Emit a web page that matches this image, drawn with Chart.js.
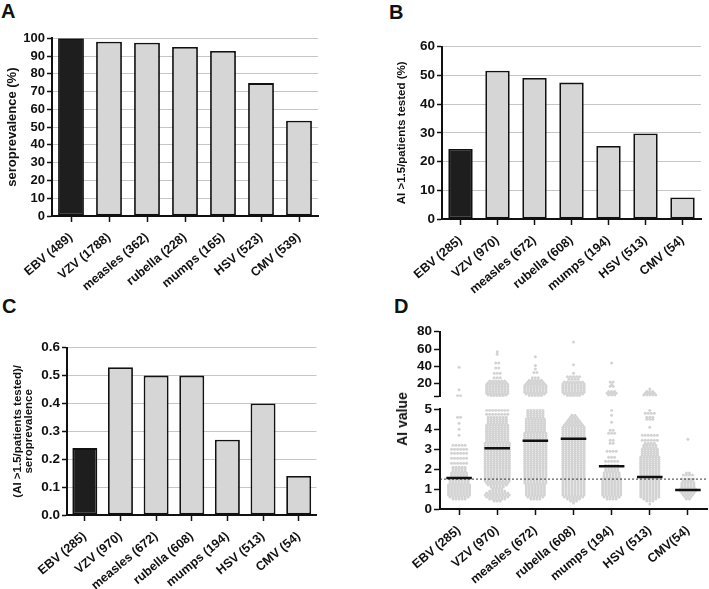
<!DOCTYPE html>
<html>
<head>
<meta charset="utf-8">
<script src="https://cdn.jsdelivr.net/npm/chart.js@4.4.1/dist/chart.umd.min.js"></script>
<style>
  body { margin: 0; background: #fff; width: 709px; height: 589px; position: relative; overflow: hidden; font-family: 'Liberation Sans', Arial, sans-serif; }
  .panel { position: absolute; }
  .letter { position: absolute; font: bold 20px/20px 'Liberation Sans', Arial, sans-serif; color: #111; }
  #dTitle { position: absolute; left: 402px; top: 419px; transform: translate(-50%, -50%) rotate(-90deg); white-space: nowrap; font: bold 14px 'Liberation Sans', Arial, sans-serif; color: #111; }
</style>
</head>
<body>
<div class="letter" style="left:1px;top:1px">A</div>
<div class="letter" style="left:389px;top:2px">B</div>
<div class="letter" style="left:2px;top:296px">C</div>
<div class="letter" style="left:394px;top:296px">D</div>

<div class="panel" style="left:0;top:28px;width:330px;height:268px"><canvas id="chartA"></canvas></div>
<div class="panel" style="left:355px;top:28px;width:354px;height:268px"><canvas id="chartB"></canvas></div>
<div class="panel" style="left:0;top:318px;width:330px;height:271px"><canvas id="chartC"></canvas></div>
<div class="panel" style="left:355px;top:320px;width:354px;height:80px"><canvas id="chartDHigh"></canvas></div>
<div class="panel" style="left:355px;top:400px;width:354px;height:189px"><canvas id="chartDLow"></canvas></div>
<div id="dTitle">AI value</div>

<script>
'use strict';
// panel A
var categoriesA = ['EBV (489)', 'VZV (1788)', 'measles (362)', 'rubella (228)', 'mumps (165)', 'HSV (523)', 'CMV (539)'];
var seroprevalence = [100, 98.1, 97.5, 95.1, 92.9, 74.8, 53.6];
var ticksA = [0, 10, 20, 30, 40, 50, 60, 70, 80, 90, 100];

// panel B
var categoriesB = ['EBV (285)', 'VZV (970)', 'measles (672)', 'rubella (608)', 'mumps (194)', 'HSV (513)', 'CMV (54)'];
var aiAbovePct = [24.4, 51.6, 49.1, 47.5, 25.4, 29.8, 7.5];
var ticksB = [0, 10, 20, 30, 40, 50, 60];

// panel C
var categoriesC = ['EBV (285)', 'VZV (970)', 'measles (672)', 'rubella (608)', 'mumps (194)', 'HSV (513)', 'CMV (54)'];
var aiRatio = [0.24, 0.53, 0.50, 0.50, 0.27, 0.40, 0.14];
var ticksC = [0, 0.1, 0.2, 0.3, 0.4, 0.5, 0.6];

// panel D: each row is [AI value, dots in that row]
var categoriesD = ['EBV (285)', 'VZV (970)', 'measles (672)', 'rubella (608)', 'mumps (194)', 'HSV (513)', 'CMV(54)'];
var medianD = [1.55, 3.05, 3.42, 3.52, 2.15, 1.6, 0.95];
var cutoffD = 1.5;
var ticksDLow = [0, 1, 2, 3, 4, 5];
var ticksDHigh = [5, 20, 40, 60, 80];

var ebvLow = [[0.5,5],[0.6,7],[0.7,8],[0.8,8],[0.9,8],[1.0,8],[1.1,8],[1.2,8],[1.3,7],[1.4,7],[1.5,7],[1.6,6],[1.7,6],[1.8,6],[1.9,5],[2.0,5],[2.1,5],[2.3,6],[2.55,6],[2.8,6],[3.0,6],[3.2,5],[3.7,1],[4.0,1],[4.3,1],[4.6,2]];
var vzvLow = [[0.4,3],[0.5,6],[0.6,8],[0.7,9],[0.8,8],[0.9,6],[1.0,4],[1.1,5],[1.2,7],[1.3,8],[1.4,9],[1.5,9],[1.6,9],[1.7,9],[1.8,9],[1.9,9],[2.0,9],[2.1,9],[2.2,9],[2.3,9],[2.4,9],[2.5,9],[2.6,9],[2.7,9],[2.8,9],[2.9,9],[3.0,9],[3.1,9],[3.2,9],[3.3,9],[3.4,8],[3.5,8],[3.6,8],[3.7,8],[3.8,8],[3.9,8],[4.0,8],[4.1,8],[4.2,8],[4.3,7],[4.4,7],[4.5,7],[4.6,7],[4.75,8],[4.95,8]];
var measlesLow = [[0.5,4],[0.6,6],[0.7,7],[0.8,7],[0.9,7],[1.0,7],[1.1,7],[1.2,7],[1.3,8],[1.4,8],[1.5,8],[1.6,8],[1.7,8],[1.8,8],[1.9,8],[2.0,8],[2.1,8],[2.2,8],[2.3,8],[2.4,8],[2.5,8],[2.6,8],[2.7,8],[2.8,8],[2.9,8],[3.0,8],[3.1,8],[3.2,8],[3.3,8],[3.4,8],[3.5,8],[3.6,8],[3.7,8],[3.8,8],[3.9,7],[4.0,7],[4.1,7],[4.2,7],[4.3,7],[4.4,7],[4.5,7],[4.6,6],[4.7,6],[4.8,6],[4.9,6],[5.0,6]];
var rubellaLow = [[0.3,1],[0.4,3],[0.5,5],[0.6,7],[0.7,8],[0.8,8],[0.9,8],[1.0,8],[1.1,8],[1.2,8],[1.3,8],[1.4,8],[1.5,8],[1.6,8],[1.7,8],[1.8,8],[1.9,8],[2.0,8],[2.1,8],[2.2,8],[2.3,8],[2.4,8],[2.5,8],[2.6,8],[2.7,8],[2.8,8],[2.9,8],[3.0,8],[3.1,8],[3.2,8],[3.3,8],[3.4,8],[3.5,8],[3.6,8],[3.7,8],[3.8,8],[3.9,8],[4.0,8],[4.1,8],[4.2,7],[4.3,6],[4.4,5],[4.5,4],[4.6,3],[4.7,2]];
var mumpsLow = [[0.5,4],[0.6,6],[0.7,7],[0.8,7],[0.9,7],[1.0,7],[1.1,7],[1.2,7],[1.3,7],[1.4,7],[1.5,7],[1.6,6],[1.7,6],[1.8,6],[1.9,5],[2.0,5],[2.2,5],[2.4,5],[2.6,3],[2.9,4],[3.3,2],[3.45,2],[3.8,3],[3.95,2],[4.35,1],[4.7,1],[4.95,1]];
var hsvLow = [[0.25,1],[0.4,3],[0.5,5],[0.6,7],[0.7,7],[0.8,7],[0.9,7],[1.0,7],[1.1,7],[1.2,7],[1.3,7],[1.4,7],[1.5,7],[1.6,7],[1.7,7],[1.8,7],[1.9,7],[2.0,7],[2.1,7],[2.2,7],[2.3,7],[2.4,7],[2.5,7],[2.6,7],[2.7,6],[2.8,6],[2.9,6],[3.0,6],[3.1,5],[3.2,5],[3.3,4],[3.45,6],[3.7,6],[4.1,1],[4.5,3],[4.6,3],[4.8,4],[4.95,1]];
var cmvLow = [[0.5,2],[0.6,3],[0.7,4],[0.8,5],[0.9,6],[1.0,6],[1.1,5],[1.2,5],[1.3,5],[1.4,4],[1.5,5],[1.7,4],[1.8,2],[3.5,1]];

var ebvHigh = [[39,1],[13,1],[6,2]];
var vzvHigh = [[57,1],[54,1],[44,2],[38,2],[32,3],[27,3],[23,6],[21,7],[19,8],[17,8],[15,8],[13,8],[11,8],[9,8],[7,7],[6,5]];
var measlesHigh = [[51,1],[41,1],[37,1],[33,2],[27,3],[24,5],[22,6],[20,7],[18,8],[16,8],[14,8],[12,8],[10,8],[8,7],[6,5]];
var rubellaHigh = [[68,1],[42,1],[32,1],[28,5],[25,4],[22,7],[20,8],[18,8],[16,8],[14,8],[12,8],[10,8],[8,7],[6,5]];
var mumpsHigh = [[44,1],[22,2],[19,1],[17,2],[11,3],[9,4],[7,3]];
var hsvHigh = [[14,1],[11,3],[9,4],[7,5]];
var cmvHigh = [];

var FONT = "'Liberation Sans', Arial, Helvetica, sans-serif";
var INK = '#111';
var LABEL_ROT = 40;

function drawBars(id, labels, values, yTicks, cfg) {
  new Chart(document.getElementById(id), {
    type: 'bar',
    data: {
      labels: labels,
      datasets: [{
        data: values,
        backgroundColor: values.map((v, i) => i === 0 ? '#1e1e1e' : '#d6d6d6'),
        borderColor: INK,
        borderWidth: 1.8,
        borderSkipped: false,
        barPercentage: cfg.barPct,
        categoryPercentage: 1
      }]
    },
    options: {
      responsive: true, maintainAspectRatio: false, animation: false, devicePixelRatio: 1,
      layout: {padding: {top: cfg.padTop, right: cfg.padRight, left: 0, bottom: 0}},
      plugins: {legend: {display: false}, tooltip: {enabled: false}},
      scales: {
        x: {
          grid: {offset: false, drawOnChartArea: false, tickColor: INK, tickLength: 6, tickWidth: 1.5},
          border: {color: INK, width: 2},
          ticks: {autoSkip: false, maxRotation: LABEL_ROT, minRotation: LABEL_ROT, padding: 8, color: INK,
            font: {family: FONT, weight: 'bold', size: 12.5}},
          afterFit: s => { s.height = cfg.xH; s.paddingLeft = 0; s.paddingRight = 0; }
        },
        y: {
          min: yTicks[0], max: yTicks[yTicks.length - 1],
          afterBuildTicks: s => { s.ticks = yTicks.map(v => ({value: v})); },
          grid: {color: '#c6c6c6', lineWidth: 1, tickColor: INK, tickLength: 5, tickWidth: 1.5},
          border: {color: INK, width: 2},
          ticks: {autoSkip: false, padding: 2, color: INK, font: {family: FONT, weight: 'bold', size: cfg.tickSize},
            callback: v => cfg.fmt(v)},
          title: {display: true, text: cfg.title, color: INK,
            font: {family: FONT, weight: 'bold', size: cfg.titleSize, lineHeight: cfg.titleLH},
            padding: {top: cfg.titlePad, bottom: 0}},
          afterFit: s => { s.width = cfg.yW; s.paddingTop = 0; s.paddingBottom = 0; }
        }
      }
    }
  });
}

drawBars('chartA', categoriesA, seroprevalence, ticksA, {
  barPct: 0.68, padTop: 10.3, padRight: 12, xH: 80, yW: 52, tickSize: 13,
  fmt: v => String(v), title: 'seroprevalence (%)', titleSize: 13, titleLH: 1.2, titlePad: 5
});
drawBars('chartB', categoriesB, aiAbovePct, ticksB, {
  barPct: 0.66, padTop: 18.7, padRight: 8, xH: 77, yW: 87, tickSize: 13.5,
  fmt: v => String(v), title: 'AI >1.5/patients tested (%)', titleSize: 11.5, titleLH: 1.2, titlePad: 40
});
drawBars('chartC', categoriesC, aiRatio, ticksC, {
  barPct: 0.7, padTop: 29.7, padRight: 13.5, xH: 74, yW: 67, tickSize: 13.5,
  fmt: v => v.toFixed(1), title: ['(AI >1.5/patients tested)/', 'seroprevalence'], titleSize: 11.5, titleLH: 0.92, titlePad: 13
});

// beeswarm spread: dots of a row are set side by side around the category
var DX = 0.079;
function swarm(groups) {
  var pts = [];
  groups.forEach((rows, idx) => {
    rows.forEach(([v, n]) => {
      for (let k = 0; k < n; k++) {
        pts.push({x: idx + (k - (n - 1) / 2) * DX, y: v});
      }
    });
  });
  return pts;
}

var dotStyle = {order: 2, pointRadius: 1.5, pointBackgroundColor: '#d3d3d3', pointBorderWidth: 0, pointHoverRadius: 0};
var yAxisD = (ticks, fmt, width) => ({
  min: ticks[0], max: ticks[ticks.length - 1],
  afterBuildTicks: s => { s.ticks = ticks.map(v => ({value: v})); },
  grid: {drawOnChartArea: false, tickColor: INK, tickLength: 6, tickWidth: 1.5},
  border: {color: INK, width: 2},
  ticks: {autoSkip: false, padding: 2, color: INK, font: {family: FONT, weight: 'bold', size: 13.5}, callback: fmt},
  afterFit: s => { s.width = width; s.paddingTop = 0; s.paddingBottom = 0; }
});
var baseOpts = {responsive: true, maintainAspectRatio: false, animation: false, devicePixelRatio: 1,
  plugins: {legend: {display: false}, tooltip: {enabled: false}}};

new Chart(document.getElementById('chartDHigh'), {
  type: 'scatter',
  data: {datasets: [Object.assign({data: swarm([ebvHigh, vzvHigh, measlesHigh, rubellaHigh, mumpsHigh, hsvHigh, cmvHigh])}, dotStyle)]},
  options: Object.assign({}, baseOpts, {
    layout: {padding: {top: 11.7, right: 2, bottom: 3.3, left: 0}},
    scales: {
      x: {display: false, min: -0.5, max: 6.5},
      y: yAxisD(ticksDHigh, v => v === 5 ? '' : String(v), 85)
    }
  })
});

var lowSets = [Object.assign({data: swarm([ebvLow, vzvLow, measlesLow, rubellaLow, mumpsLow, hsvLow, cmvLow])}, dotStyle)];
medianD.forEach((m, i) => {
  lowSets.push({order: 0, data: [{x: i - 0.335, y: m}, {x: i + 0.335, y: m}], showLine: true,
    borderColor: INK, borderWidth: 2.5, pointRadius: 0});
});
lowSets.push({order: 1, data: [{x: -0.5, y: cutoffD}, {x: 6.5, y: cutoffD}], showLine: true,
  borderColor: '#333', borderWidth: 1, borderDash: [2, 2], pointRadius: 0});

new Chart(document.getElementById('chartDLow'), {
  type: 'scatter',
  data: {datasets: lowSets},
  options: Object.assign({}, baseOpts, {
    layout: {padding: {top: 9.3, right: 2, bottom: 0, left: 0}},
    scales: {
      x: {
        min: -0.5, max: 6.5,
        afterBuildTicks: s => { s.ticks = categoriesD.map((c, i) => ({value: i})); },
        grid: {drawOnChartArea: false, tickColor: INK, tickLength: 6, tickWidth: 1.5},
        border: {color: INK, width: 2},
        ticks: {autoSkip: false, maxRotation: LABEL_ROT, minRotation: LABEL_ROT, padding: 8, color: INK,
          font: {family: FONT, weight: 'bold', size: 12.5},
          callback: (v) => categoriesD[v]},
        afterFit: s => { s.height = 80; s.paddingLeft = 0; s.paddingRight = 0; }
      },
      y: yAxisD(ticksDLow, v => String(v), 85)
    }
  })
});
</script>
</body>
</html>
